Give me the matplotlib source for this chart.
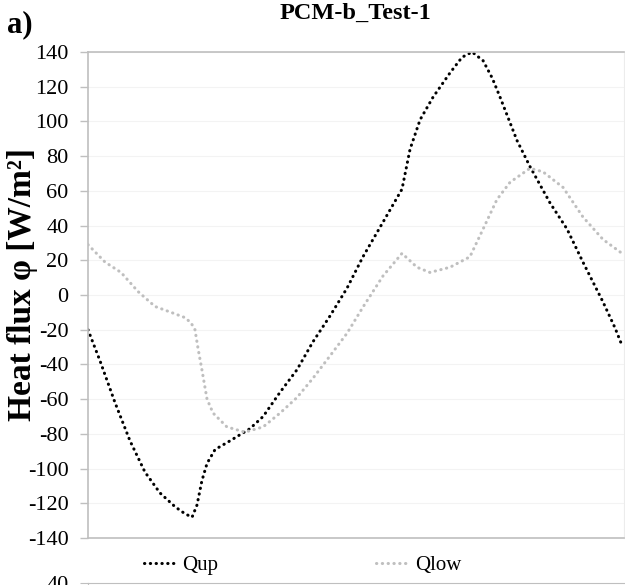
import numpy as np
import matplotlib.pyplot as plt

plt.rcParams['font.family'] = ['Liberation Serif', 'DejaVu Serif']
plt.rcParams['axes.unicode_minus'] = False

# time [h] and heat flux [W/m2] for the upper sensor
t_up = [0.00, 0.54, 1.21, 1.88, 2.55, 3.22, 3.90, 4.34, 4.66, 4.88, 5.10, 5.33,
        5.69, 6.36, 7.25, 7.84, 8.60, 9.36, 10.07, 10.84, 11.60, 12.31, 13.21,
        14.06, 14.42, 14.87, 15.45, 16.21, 16.75, 17.20, 17.69, 18.10, 18.45,
        19.21, 19.79, 20.69, 21.45, 22.16, 23.06, 23.60, 23.91]
q_up = [-20, -38, -62, -84, -102, -114, -122, -126, -128, -121, -107, -97,
        -89, -84, -77, -70, -56, -43, -27, -12, 4, 22, 42,
        61, 84, 101, 114, 128, 137, 140, 135, 125, 114,
        89, 74, 53, 38, 19, -4, -19, -29]

# lower sensor
t_low = [0.00, 0.76, 1.48, 2.24, 3.00, 3.72, 4.34, 4.61, 4.79, 4.93, 5.10, 5.33,
         5.60, 6.22, 7.03, 7.84, 8.60, 9.36, 10.07, 10.84, 11.60, 12.31, 13.21,
         14.06, 14.73, 15.31, 16.21, 17.10, 17.69, 18.31, 18.90, 19.79, 20.37,
         21.27, 22.16, 23.06, 23.91]
q_low = [29, 19, 13, 2, -6.6, -10, -13, -16, -20, -31, -43, -60,
         -68, -76, -79, -76, -68, -59, -48, -35, -22, -7, 11,
         24, 16, 13, 16, 22, 38, 55, 65, 73, 71,
         62, 45, 32, 24]

yticks = np.arange(-140, 141, 20)

fig = plt.figure(figsize=(6.25, 5.85), dpi=100)
ax = fig.add_axes([0.1408, 0.0803, 0.8576, 0.8308])

dot = (0, (0.1, 1.8))
ax.plot(t_up, q_up, color='black', lw=2.2, linestyle=dot,
        dash_capstyle='round', label='Qup')
ax.plot(t_low, q_low, color='#bfbfbf', lw=2.2, linestyle=dot,
        dash_capstyle='round', label='Qlow')

ax.set_xlim(0, 24)
ax.set_ylim(-140, 140)
ax.set_yticks(yticks)
ax.set_xticks([])
ax.tick_params(axis='y', direction='out', length=6, width=1, color='#bfbfbf',
               labelsize=16, pad=8)
ax.grid(axis='y', color='#f3f3f3', lw=0.8)
ax.set_axisbelow(True)
for side in ['left', 'bottom', 'top']:
    ax.spines[side].set_color('#bfbfbf')
    ax.spines[side].set_linewidth(1.2)
ax.spines['right'].set_color('#ececec')

# axis title placed by hand so it sits close to the figure edge
fig.text(0.036, 0.514, 'Heat flux φ [W/m²]', rotation=90, ha='center', va='center',
         fontsize=24, fontweight='bold')
fig.text(0.568, 0.977, 'PCM-b_Test-1', ha='center', va='center',
         fontsize=17.5, fontweight='bold')
fig.text(0.012, 0.957, 'a)', ha='left', va='center', fontsize=22, fontweight='bold')

fig.legend(loc='center', bbox_to_anchor=(0.484, 0.034), ncol=2, frameon=False,
           fontsize=15, handlelength=1.45, columnspacing=7.6, handletextpad=0.4)

# top edge of the next panel, cut off by the figure border
ax2 = fig.add_axes([0.1408, -0.5, 0.8576, 0.5034])
ax2.set_ylim(-40, 40)
ax2.set_yticks([40])
ax2.set_yticklabels(['40'])
ax2.set_xticks([])
ax2.tick_params(axis='y', direction='out', length=6, color='#bfbfbf',
                labelsize=16, pad=8)
for side in ['left', 'top']:
    ax2.spines[side].set_color('#bfbfbf')
for side in ['right', 'bottom']:
    ax2.spines[side].set_visible(False)

fig.savefig('out.png', dpi=100)
